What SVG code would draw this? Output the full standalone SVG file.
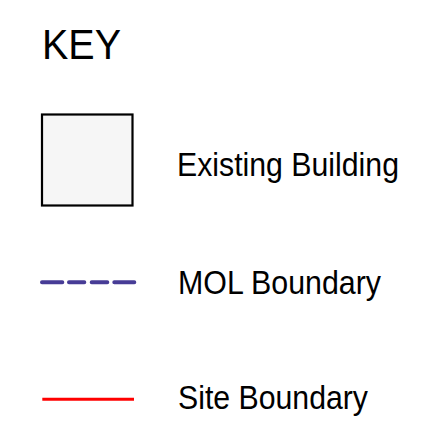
<svg xmlns="http://www.w3.org/2000/svg" width="444" height="429" viewBox="0 0 444 429">
<style>
text{font-family:"Liberation Sans",Arial,sans-serif;fill:#000}
.lbl{font-size:34px}
</style>
<rect width="444" height="429" fill="#fff"/>
<g id="title"><text x="42" y="59" font-size="42" textLength="79" lengthAdjust="spacingAndGlyphs">KEY</text></g>
<g id="key-building">
<rect x="42" y="114.5" width="90.5" height="91" fill="#f6f6f6" stroke="#000" stroke-width="2.2"/>
<text class="lbl" x="177" y="176" textLength="222" lengthAdjust="spacingAndGlyphs">Existing Building</text>
</g>
<g id="key-mol">
<path d="M42 282.3H62.3M69 282.3H84.3M91.7 282.3H107.3M114.3 282.3H134.3" stroke="#473c96" stroke-width="4" stroke-linecap="round" fill="none"/>
<text class="lbl" x="178" y="293.5" textLength="203" lengthAdjust="spacingAndGlyphs">MOL Boundary</text>
</g>
<g id="key-site">
<path d="M42.3 399.3H134" stroke="#ff0000" stroke-width="3" fill="none"/>
<text class="lbl" x="178" y="408.5" textLength="190" lengthAdjust="spacingAndGlyphs">Site Boundary</text>
</g>
</svg>
